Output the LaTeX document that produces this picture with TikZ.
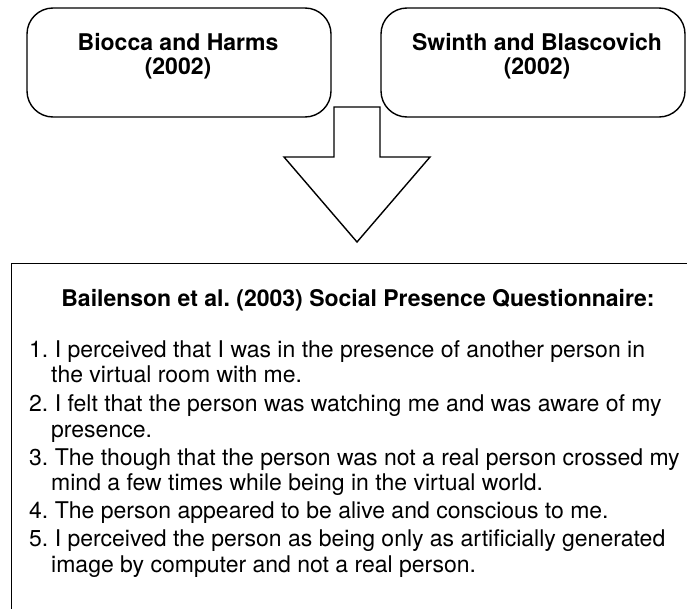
\documentclass[tikz,border=0pt]{standalone}
\usepackage{fontspec}
\setmainfont{TeX Gyre Heros}
\begin{document}
\frenchspacing
\begin{tikzpicture}[x=1pt,y=-1pt,
  frame/.style={draw, line width=1.4pt},
  srcbox/.style={frame, rounded corners=26pt, minimum width=304pt, minimum height=109pt, inner sep=0pt},
  boldtxt/.style={font=\bfseries\fontsize{23}{25}\selectfont, inner sep=0pt, anchor=base},
  itemtxt/.style={font=\fontsize{23}{25.5}\selectfont, inner sep=0pt, anchor=base west}]
\useasboundingbox (0,0) rectangle (687,608);
\clip (0,0) rectangle (687,608);

% source boxes
\node[srcbox] (biocca) at (179,62.5) {};
\node[srcbox] (swinth) at (533,62.5) {};
\node[boldtxt] (bioccaA) at (178,50) {Biocca and Harms};
\node[boldtxt] (bioccaB) at (178,74) {(2002)};
\node[boldtxt] (swinthA) at (537,50) {Swinth and Blascovich};
\node[boldtxt] (swinthB) at (537,74) {(2002)};

% block arrow pointing down
\draw[line width=1.4pt, fill=white, line join=miter]
  (334,107) -- (380,107) -- (380,157) -- (430,157) -- (357,242)
  -- (284,157) -- (334,157) -- cycle;

% questionnaire box (runs past the right and bottom edges)
\node[frame, anchor=north west, minimum width=720pt, minimum height=400pt, inner sep=0pt] (quest) at (11,263) {};
\node[boldtxt] (title) at (358,306) {Bailenson et al. (2003) Social Presence Questionnaire:};

\node[itemtxt] (q1a) at (29,357) {1. I perceived that I was in the presence of another person in};
\node[itemtxt] (q1b) at (51,382) {the virtual room with me.};
\node[itemtxt] (q2a) at (29,411) {2. I felt that the person was watching me and was aware of my};
\node[itemtxt] (q2b) at (51,437) {presence.};
\node[itemtxt] (q3a) at (29,465) {3. The though that the person was not a real person crossed my};
\node[itemtxt] (q3b) at (51,490) {mind a few times while being in the virtual world.};
\node[itemtxt] (q4a) at (29,518) {4. The person appeared to be alive and conscious to me.};
\node[itemtxt] (q5a) at (29,546) {5. I perceived the person as being only as artificially generated};
\node[itemtxt] (q5b) at (51,572) {image by computer and not a real person.};
\end{tikzpicture}
\end{document}
